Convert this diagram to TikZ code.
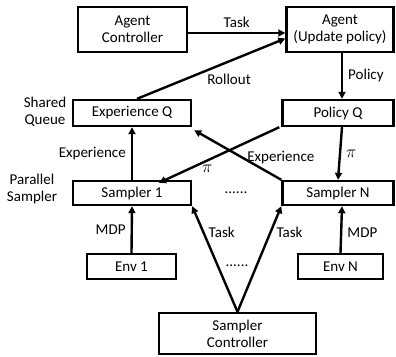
\documentclass[tikz,border=0pt]{standalone}
\usepackage{fontspec}
\setmainfont{Carlito}
\usepackage{tikz}
\usetikzlibrary{arrows.meta, positioning, calc}
\tikzset{block/.style={rectangle,draw,line width=2.4pt,align=center,inner sep=1pt,font=\fontsize{15}{17}\selectfont},
         lbl/.style={align=center,inner sep=1pt,font=\fontsize{15}{17}\selectfont},
         arrow/.style={-{Triangle[length=7pt,width=7pt]},line width=2.4pt}}

\begin{document}
\begin{tikzpicture}[x=1pt,y=-1pt]
    \useasboundingbox (0,0) rectangle (396,356);
    % controllers and agent
    \node (actrl) [block, minimum width=109pt, minimum height=45pt] at (132.5,29.5) {Agent\\Controller};
    \node (agent) [block, minimum width=107pt, minimum height=45pt] at (340,29.5) {Agent\\(Update policy)};
    % queues
    \node (expq) [block, minimum width=118pt, minimum height=26pt] at (132,113) {Experience Q};
    \node (polq) [block, minimum width=111pt, minimum height=26pt] at (338,113) {Policy Q};
    % samplers
    \node (samp1) [block, minimum width=118pt, minimum height=24pt] at (132,193) {Sampler 1};
    \node (sampN) [block, minimum width=111pt, minimum height=24pt] at (338,193) {Sampler N};
    \node (dots1) [lbl] at (236,193) {......};
    % environments
    \node (env1) [block, minimum width=89pt, minimum height=25pt] at (131.5,266.5) {Env 1};
    \node (envN) [block, minimum width=85pt, minimum height=25pt] at (340.5,266.5) {Env N};
    \node (dots2) [lbl] at (237,266) {......};
    \node (sctrl) [block, minimum width=157pt, minimum height=41pt] at (237.5,333.5) {Sampler\\Controller};
    % side labels
    \node (shq) [lbl] at (45,112) {Shared\\Queue};
    \node (psamp) [lbl] at (32,189) {Parallel\\Sampler};

    \draw[arrow] ([yshift=-3.5pt]actrl.east) -- node[above,lbl,yshift=3pt]{Task} ([yshift=-3.5pt]agent.west);
    \draw[arrow] ([xshift=5pt]expq.north) -- node[below right,lbl,pos=0.5,xshift=-6pt,yshift=-3pt]{Rollout} ([yshift=-9pt]agent.west);
    \draw[arrow] ([xshift=2pt]agent.south) -- node[right,lbl,xshift=4pt]{Policy} ([xshift=4pt]polq.north);
    \draw[arrow] ([xshift=4pt]polq.south) -- node[right,lbl,xshift=4pt]{\fontsize{18}{18}\selectfont$\pi$} (sampN.north);
    \draw[arrow] (samp1.north) -- node[left,lbl,xshift=-4pt]{Experience} (expq.south);
    \draw[arrow] ([xshift=-2pt]polq.south west) -- node[below,lbl,pos=0.6,yshift=-2pt]{\fontsize{18}{18}\selectfont$\pi$} ([xshift=27pt,yshift=-3pt]samp1.north);
    \draw[arrow] (sampN.north west) -- node[above right,lbl,pos=0.22,xshift=-17pt,yshift=3pt]{Experience} ([xshift=2pt,yshift=-3pt]expq.south east);
    \draw[arrow] (env1.north) -- node[left,lbl,xshift=-4pt]{MDP} (samp1.south);
    \draw[arrow] (envN.north) -- node[right,lbl,xshift=4pt,yshift=-3pt]{MDP} ([xshift=4pt]sampN.south);
    \draw[arrow] (sctrl.north) -- node[right,lbl,pos=0.75,xshift=3pt]{Task} (samp1.south east);
    \draw[arrow] (sctrl.north) -- node[right,lbl,pos=0.75,xshift=4pt]{Task} (sampN.south west);
\end{tikzpicture}
\end{document}
